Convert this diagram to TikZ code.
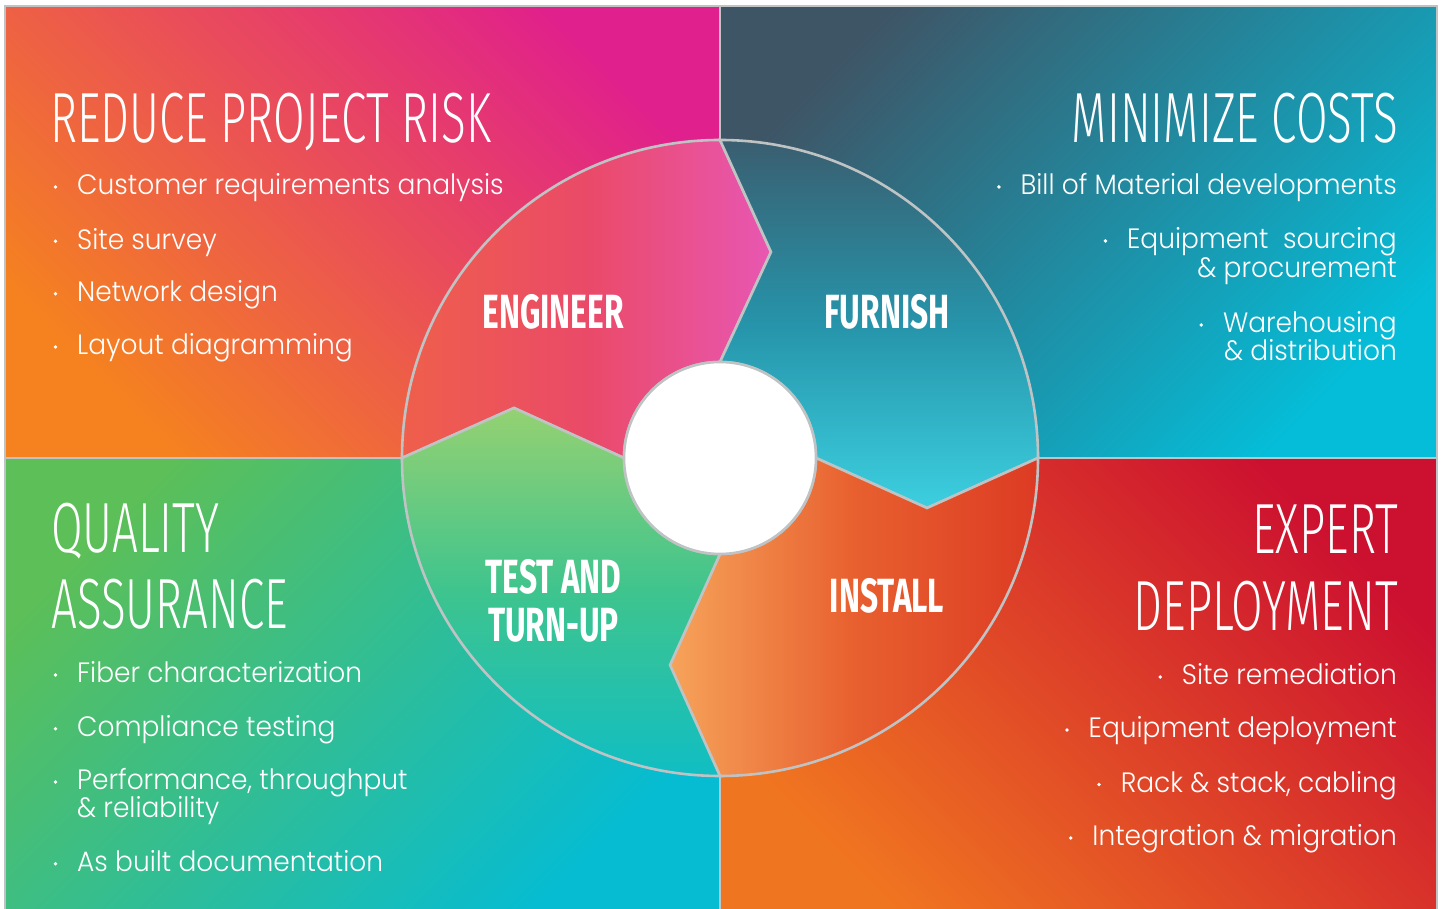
\documentclass[tikz,border=0pt]{standalone}
\usepackage{fontspec}
\usetikzlibrary{calc}
\newfontfamily\ttlfont{Fira Sans Light}[FakeStretch=0.645]
\newfontfamily\segfont{Fira Sans}[FakeStretch=0.66]
\newfontfamily\bodyfont{Poppins Light}[FakeStretch=0.945]
\definecolor{ringgray}{HTML}{BFC3C4}
\definecolor{tlA}{HTML}{F5821F}
\definecolor{tlB}{HTML}{E0208C}
\definecolor{trA}{HTML}{3E5566}
\definecolor{trB}{HTML}{05BDD8}
\definecolor{blA}{HTML}{5CBF58}
\definecolor{blB}{HTML}{05BCD3}
\definecolor{brA}{HTML}{F07520}
\definecolor{brB}{HTML}{CC1030}
\definecolor{engA}{HTML}{EF5F4B}
\definecolor{engM}{HTML}{EA4A68}
\definecolor{engB}{HTML}{E857B2}
\definecolor{furA}{HTML}{3A5E70}
\definecolor{furM}{HTML}{2694AA}
\definecolor{furB}{HTML}{3CCFE0}
\definecolor{insA}{HTML}{F6A35A}
\definecolor{insM}{HTML}{E8602F}
\definecolor{insB}{HTML}{DC3B23}
\definecolor{tstA}{HTML}{95D172}
\definecolor{tstM}{HTML}{3EC48E}
\definecolor{tstB}{HTML}{10BEC3}
\tikzset{
  ttl/.style={text=white, inner sep=0pt, font=\ttlfont\fontsize{71}{71}\selectfont},
  itm/.style={text=white, inner sep=0pt, font=\bodyfont\fontsize{28}{28}\selectfont},
  seglabel/.style={text=white, inner sep=0pt, align=center, font=\segfont\bfseries\fontsize{48}{48}\selectfont},
  ring/.style={draw=ringgray, line width=2.6pt},
  divider/.style={draw=ringgray, line width=2.6pt},
}
\newcommand{\bul}[1]{\fill[white] ($(#1.base west)+(-21.5,8)$) circle (1.9);}
\begin{document}
\begin{tikzpicture}[x=1pt,y=1pt]
\useasboundingbox (0,0) rectangle (1442,909);
\fill[white] (0,0) rectangle (1442,909);
% quadrants
\shade[top color=tlB, bottom color=tlA, shading angle=-45] (5,451) rectangle (720,903);
\shade[top color=trA, bottom color=trB, shading angle=45] (720,451) rectangle (1437,903);
\shade[top color=blA, bottom color=blB, shading angle=45] (5,0) rectangle (720,451);
\shade[top color=brB, bottom color=brA, shading angle=-45] (720,0) rectangle (1437,451);
% frame and dividers
\draw[divider] (5,-5) -- (5,903) -- (1437,903) -- (1437,-5);
\draw[divider] (720,0) -- (720,903);
\draw[divider] (5,451) -- (1437,451);
% segments
\shadedraw[ring, left color=engA, right color=engB, middle color=engM]
  (624,451) -- (514,501) -- (402,451) arc[start angle=180,end angle=90,radius=318]
  -- (771,657) -- (720,547) arc[start angle=90,end angle=180,radius=96] -- cycle;
\shadedraw[ring, top color=furA, bottom color=furB, middle color=furM]
  (720,769) arc[start angle=90,end angle=0,radius=318] -- (927,401) -- (816,451)
  arc[start angle=0,end angle=90,radius=96] -- (771,657) -- cycle;
\shadedraw[ring, left color=insA, right color=insB, middle color=insM]
  (1038,451) arc[start angle=0,end angle=-90,radius=318] -- (670,244) -- (720,355)
  arc[start angle=-90,end angle=0,radius=96] -- (927,401) -- cycle;
\shadedraw[ring, top color=tstA, bottom color=tstB, middle color=tstM]
  (720,133) arc[start angle=-90,end angle=-180,radius=318] -- (514,501) -- (624,451)
  arc[start angle=180,end angle=270,radius=96] -- (670,244) -- cycle;
\filldraw[ring, fill=white] (720,451) circle (96);
% segment labels
\node[seglabel, anchor=base] (eng) at (553,580) {ENGINEER};
\node[seglabel, anchor=base] (fur) at (887,580) {FURNISH};
\node[seglabel, anchor=base] (ins) at (887,296.4) {INSTALL};
\node[seglabel, anchor=center] (tst) at (553.5,308.5) {TEST AND\\TURN-UP};
% top-left
\node[ttl, anchor=base west] (tlt) at (50,766.5) {REDUCE PROJECT RISK};
\node[itm, anchor=base west] (tl1) at (77,714) {Customer requirements analysis};
\node[itm, anchor=base west] (tl2) at (77,659.7) {Site survey};
\node[itm, anchor=base west] (tl3) at (77,607.3) {Network design};
\node[itm, anchor=base west] (tl4) at (77,554) {Layout diagramming};
\bul{tl1}\bul{tl2}\bul{tl3}\bul{tl4}
% top-right
\node[ttl, anchor=base east] (trt) at (1398,766.5) {MINIMIZE COSTS};
\node[itm, anchor=base east] (tr1) at (1397,714) {Bill of Material developments};
\node[itm, anchor=base east] (tr2) at (1397,660) {Equipment~ sourcing};
\node[itm, anchor=base east] (tr2b) at (1397,631) {\& procurement};
\node[itm, anchor=base east] (tr3) at (1397,576) {Warehousing};
\node[itm, anchor=base east] (tr3b) at (1397,548) {\& distribution};
\bul{tr1}\bul{tr2}\bul{tr3}
% bottom-left
\node[ttl, anchor=base west] (blt1) at (51,356.3) {QUALITY};
\node[ttl, anchor=base west] (blt2) at (51,280) {ASSURANCE};
\node[itm, anchor=base west] (bl1) at (77,226) {Fiber characterization};
\node[itm, anchor=base west] (bl2) at (77,172.3) {Compliance testing};
\node[itm, anchor=base west] (bl3) at (77,119) {Performance, throughput};
\node[itm, anchor=base west] (bl3b) at (77,91) {\& reliability};
\node[itm, anchor=base west] (bl4) at (77,37.3) {As built documentation};
\bul{bl1}\bul{bl2}\bul{bl3}\bul{bl4}
% bottom-right
\node[ttl, anchor=base east] (brt1) at (1398,355.4) {EXPERT};
\node[ttl, anchor=base east] (brt2) at (1398,278) {DEPLOYMENT};
\node[itm, anchor=base east] (br1) at (1397,224) {Site remediation};
\node[itm, anchor=base east] (br2) at (1397,171) {Equipment deployment};
\node[itm, anchor=base east] (br3) at (1397,116.5) {Rack \& stack, cabling};
\node[itm, anchor=base east] (br4) at (1397,63) {Integration \& migration};
\bul{br1}\bul{br2}\bul{br3}\bul{br4}
\end{tikzpicture}
\end{document}
